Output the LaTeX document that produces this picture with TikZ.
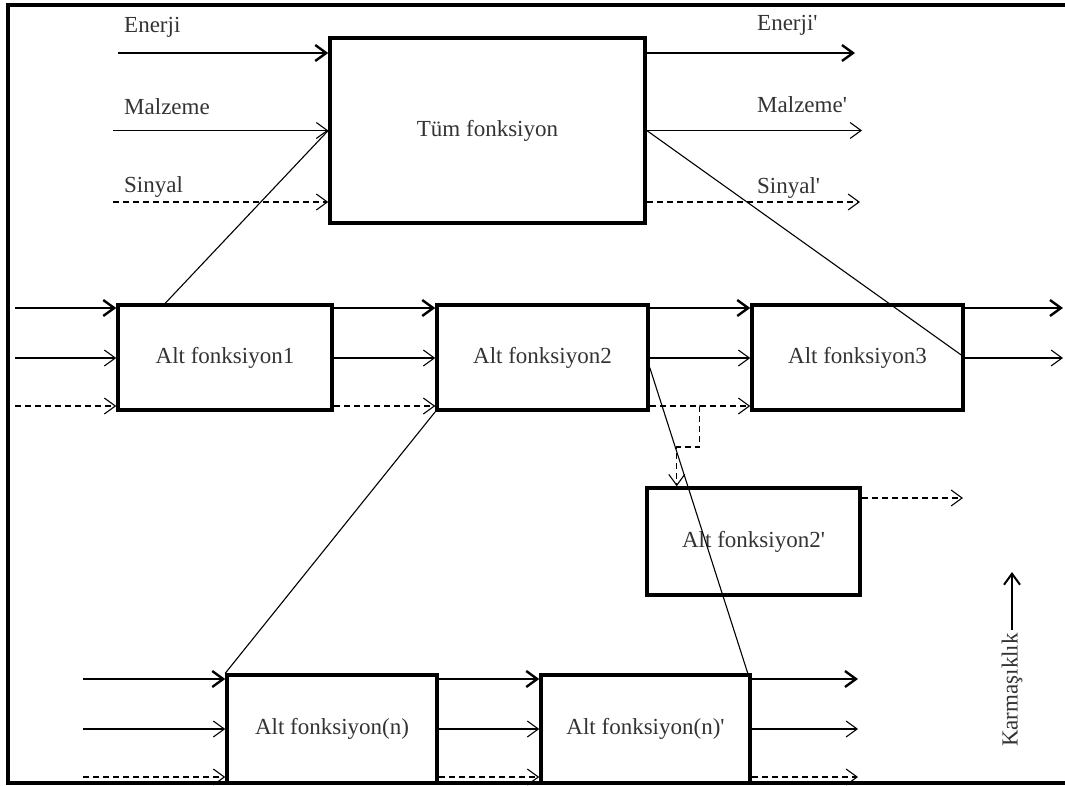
\documentclass[tikz,border=0pt]{standalone}
\usepackage{fontspec}
\setmainfont{Liberation Serif}
\newfontfamily\diagfont{Liberation Serif}
\usepackage{tikz}
\usetikzlibrary{arrows.meta, positioning}

\begin{document}
\begin{tikzpicture}[
  x=1pt, y=-1pt,
  every node/.style={font=\diagfont\fontsize{23}{27}\selectfont, text=black!80},
  func/.style={draw, line width=3.5pt, inner sep=0pt, align=center},
  flow/.style={line width=1.1pt, -{Straight Barb[length=11pt,width=16pt]}},
  energy/.style={flow, line width=2.4pt},
  signal/.style={flow, dash pattern=on 6pt off 4pt},
  link/.style={line width=1.1pt},
  lbl/.style={anchor=west, inner sep=0pt}
]
\useasboundingbox (0,0) rectangle (1065,785);

%% Frame
\draw[line width=4pt] (1065,5) -- (8,5) -- (8,783) -- (1065,783);

%% ── OVERALL FUNCTION (top) ───────────────────────────────────
\node[func, minimum width=315pt, minimum height=185pt] (tum) at (487.5,130.5)
  {Tüm fonksiyon};

\coordinate (eIn)  at (118,53);
\coordinate (mIn)  at (113,130.5);
\coordinate (sIn)  at (113,202);
\coordinate (eOut) at (855,53);
\coordinate (mOut) at (862,130.5);
\coordinate (sOut) at (860,202);

\node[lbl] (eLbl)  at (124,27)  {Enerji};
\node[lbl] (mLbl)  at (124,107) {Malzeme};
\node[lbl] (sLbl)  at (124,187) {Sinyal};
\node[lbl] (eLbl2) at (757,25)  {Enerji'};
\node[lbl] (mLbl2) at (757,105) {Malzeme'};
\node[lbl] (sLbl2) at (757,188) {Sinyal'};

\draw[energy] (eIn) -- (eIn -| tum.west);
\draw[flow]   (mIn) -- (tum.west);
\draw[signal] (sIn) -- (sIn -| tum.west);
\draw[energy] (eOut -| tum.east) -- (eOut);
\draw[flow]   (tum.east) -- (mOut);
\draw[signal] (sOut -| tum.east) -- (sOut);

%% ── SUB-FUNCTIONS (first level) ──────────────────────────────
\node[func, minimum width=214pt, minimum height=105pt] (alt1) at (225,357.5)
  {Alt fonksiyon1};
\node[func, minimum width=211pt, minimum height=105pt] (alt2) at (542.5,357.5)
  {Alt fonksiyon2};
\node[func, minimum width=211pt, minimum height=105pt] (alt3) at (857.5,357.5)
  {Alt fonksiyon3};

\coordinate (r1e) at (15,308);
\coordinate (r1m) at (15,358);
\coordinate (r1s) at (15,406);
\coordinate (r1eOut) at (1063,308);
\coordinate (r1mOut) at (1063,358);

\draw[energy] (r1e) -- (r1e -| alt1.west);
\draw[flow]   (r1m) -- (r1m -| alt1.west);
\draw[signal] (r1s) -- (r1s -| alt1.west);

\draw[energy] (alt1.east |- r1e) -- (alt2.west |- r1e);
\draw[flow]   (alt1.east |- r1m) -- (alt2.west |- r1m);
\draw[signal] (alt1.east |- r1s) -- (alt2.west |- r1s);

\draw[energy] (alt2.east |- r1e) -- (alt3.west |- r1e);
\draw[flow]   (alt2.east |- r1m) -- (alt3.west |- r1m);
\draw[signal] (alt2.east |- r1s) -- (alt3.west |- r1s);

\draw[energy] (alt3.east |- r1e) -- (r1eOut);
\draw[flow]   (alt3.east |- r1m) -- (r1mOut);

%% ── BRANCH: Alt fonksiyon2' ──────────────────────────────────
\node[func, minimum width=213pt, minimum height=107pt] (alt2p) at (753.5,541.5)
  {Alt fonksiyon2'};

\coordinate (p2Out) at (963,498);

\draw[signal] (alt2.east |- r1s) -- ++(50,0) |- ++(-23,41) coordinate (kink)
  -- (kink |- alt2p.north);
\draw[signal] (p2Out -| alt2p.east) -- (p2Out);

%% ── SUB-FUNCTIONS (level n) ──────────────────────────────────
\node[func, minimum width=210pt, minimum height=108pt] (altn) at (332,729)
  {Alt fonksiyon(n)};
\node[func, minimum width=209pt, minimum height=108pt] (altnp) at (645.5,729)
  {Alt fonksiyon(n)'};

\coordinate (rne) at (83,679);
\coordinate (rnm) at (83,729);
\coordinate (rns) at (83,777);
\coordinate (rneOut) at (858,679);
\coordinate (rnmOut) at (858,729);
\coordinate (rnsOut) at (858,777);

\draw[energy] (rne) -- (rne -| altn.west);
\draw[flow]   (rnm) -- (rnm -| altn.west);
\draw[signal] (rns) -- (rns -| altn.west);

\draw[energy] (altn.east |- rne) -- (altnp.west |- rne);
\draw[flow]   (altn.east |- rnm) -- (altnp.west |- rnm);
\draw[signal] (altn.east |- rns) -- (altnp.west |- rns);

\draw[energy] (altnp.east |- rne) -- (rneOut);
\draw[flow]   (altnp.east |- rnm) -- (rnmOut);
\draw[signal] (altnp.east |- rns) -- (rnsOut);

%% Decomposition lines
\draw[link] ([xshift=49pt]alt1.north west) -- (tum.west);
\draw[link] (tum.east) -- (alt3.east);
\draw[link] (alt2.south west) -- (altn.north west);
\draw[link] ([yshift=-10pt]alt2.east) -- ([xshift=-4pt]altnp.north east);

%% Complexity axis
\node[rotate=90] (karm) at (1012,690) {Karmaşıklık};
\coordinate (up) at (1012,572);
\draw[energy, line width=2pt] (karm.east) -- (up);

\end{tikzpicture}
\end{document}
